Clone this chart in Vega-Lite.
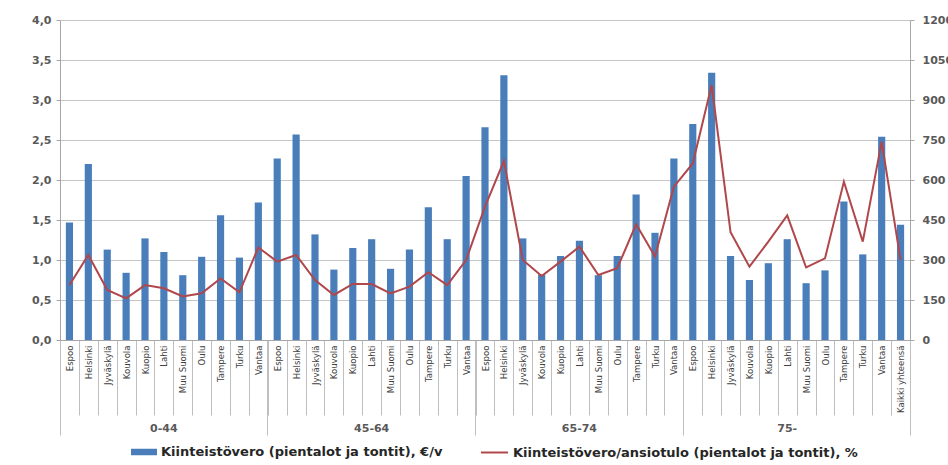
{
  "$schema": "https://vega.github.io/schema/vega-lite/v6.json",
  "width": 850,
  "height": 320,
  "padding": {"left": 30, "top": 14, "right": 0, "bottom": 5},
  "background": "white",
  "config": {"view": {"stroke": null}},
  "data": {
    "values": [
      {"i": 0, "group": "0-44", "city": "Espoo", "key": "0-44|Espoo", "vero": 1.47, "osuus": 206},
      {"i": 1, "group": "0-44", "city": "Helsinki", "key": "0-44|Helsinki", "vero": 2.20, "osuus": 319},
      {"i": 2, "group": "0-44", "city": "Jyväskylä", "key": "0-44|Jyväskylä", "vero": 1.13, "osuus": 188},
      {"i": 3, "group": "0-44", "city": "Kouvola", "key": "0-44|Kouvola", "vero": 0.84, "osuus": 156},
      {"i": 4, "group": "0-44", "city": "Kuopio", "key": "0-44|Kuopio", "vero": 1.27, "osuus": 206},
      {"i": 5, "group": "0-44", "city": "Lahti", "key": "0-44|Lahti", "vero": 1.10, "osuus": 194},
      {"i": 6, "group": "0-44", "city": "Muu Suomi", "key": "0-44|Muu Suomi", "vero": 0.81, "osuus": 163},
      {"i": 7, "group": "0-44", "city": "Oulu", "key": "0-44|Oulu", "vero": 1.04, "osuus": 175},
      {"i": 8, "group": "0-44", "city": "Tampere", "key": "0-44|Tampere", "vero": 1.56, "osuus": 231},
      {"i": 9, "group": "0-44", "city": "Turku", "key": "0-44|Turku", "vero": 1.03, "osuus": 179},
      {"i": 10, "group": "0-44", "city": "Vantaa", "key": "0-44|Vantaa", "vero": 1.72, "osuus": 347},
      {"i": 11, "group": "45-64", "city": "Espoo", "key": "45-64|Espoo", "vero": 2.27, "osuus": 294},
      {"i": 12, "group": "45-64", "city": "Helsinki", "key": "45-64|Helsinki", "vero": 2.57, "osuus": 319},
      {"i": 13, "group": "45-64", "city": "Jyväskylä", "key": "45-64|Jyväskylä", "vero": 1.32, "osuus": 225},
      {"i": 14, "group": "45-64", "city": "Kouvola", "key": "45-64|Kouvola", "vero": 0.88, "osuus": 169},
      {"i": 15, "group": "45-64", "city": "Kuopio", "key": "45-64|Kuopio", "vero": 1.15, "osuus": 210},
      {"i": 16, "group": "45-64", "city": "Lahti", "key": "45-64|Lahti", "vero": 1.26, "osuus": 210},
      {"i": 17, "group": "45-64", "city": "Muu Suomi", "key": "45-64|Muu Suomi", "vero": 0.89, "osuus": 175},
      {"i": 18, "group": "45-64", "city": "Oulu", "key": "45-64|Oulu", "vero": 1.13, "osuus": 200},
      {"i": 19, "group": "45-64", "city": "Tampere", "key": "45-64|Tampere", "vero": 1.66, "osuus": 254},
      {"i": 20, "group": "45-64", "city": "Turku", "key": "45-64|Turku", "vero": 1.26, "osuus": 206},
      {"i": 21, "group": "45-64", "city": "Vantaa", "key": "45-64|Vantaa", "vero": 2.05, "osuus": 300},
      {"i": 22, "group": "65-74", "city": "Espoo", "key": "65-74|Espoo", "vero": 2.66, "osuus": 500},
      {"i": 23, "group": "65-74", "city": "Helsinki", "key": "65-74|Helsinki", "vero": 3.31, "osuus": 671},
      {"i": 24, "group": "65-74", "city": "Jyväskylä", "key": "65-74|Jyväskylä", "vero": 1.27, "osuus": 300},
      {"i": 25, "group": "65-74", "city": "Kouvola", "key": "65-74|Kouvola", "vero": 0.82, "osuus": 240},
      {"i": 26, "group": "65-74", "city": "Kuopio", "key": "65-74|Kuopio", "vero": 1.05, "osuus": 294},
      {"i": 27, "group": "65-74", "city": "Lahti", "key": "65-74|Lahti", "vero": 1.24, "osuus": 350},
      {"i": 28, "group": "65-74", "city": "Muu Suomi", "key": "65-74|Muu Suomi", "vero": 0.81, "osuus": 244},
      {"i": 29, "group": "65-74", "city": "Oulu", "key": "65-74|Oulu", "vero": 1.05, "osuus": 269},
      {"i": 30, "group": "65-74", "city": "Tampere", "key": "65-74|Tampere", "vero": 1.82, "osuus": 434},
      {"i": 31, "group": "65-74", "city": "Turku", "key": "65-74|Turku", "vero": 1.34, "osuus": 313},
      {"i": 32, "group": "65-74", "city": "Vantaa", "key": "65-74|Vantaa", "vero": 2.27, "osuus": 575},
      {"i": 33, "group": "75-", "city": "Espoo", "key": "75-|Espoo", "vero": 2.70, "osuus": 662},
      {"i": 34, "group": "75-", "city": "Helsinki", "key": "75-|Helsinki", "vero": 3.34, "osuus": 956},
      {"i": 35, "group": "75-", "city": "Jyväskylä", "key": "75-|Jyväskylä", "vero": 1.05, "osuus": 404},
      {"i": 36, "group": "75-", "city": "Kouvola", "key": "75-|Kouvola", "vero": 0.75, "osuus": 275},
      {"i": 37, "group": "75-", "city": "Kuopio", "key": "75-|Kuopio", "vero": 0.96, "osuus": 369},
      {"i": 38, "group": "75-", "city": "Lahti", "key": "75-|Lahti", "vero": 1.26, "osuus": 467},
      {"i": 39, "group": "75-", "city": "Muu Suomi", "key": "75-|Muu Suomi", "vero": 0.71, "osuus": 272},
      {"i": 40, "group": "75-", "city": "Oulu", "key": "75-|Oulu", "vero": 0.87, "osuus": 306},
      {"i": 41, "group": "75-", "city": "Tampere", "key": "75-|Tampere", "vero": 1.73, "osuus": 594},
      {"i": 42, "group": "75-", "city": "Turku", "key": "75-|Turku", "vero": 1.07, "osuus": 369},
      {"i": 43, "group": "75-", "city": "Vantaa", "key": "75-|Vantaa", "vero": 2.54, "osuus": 744},
      {"i": 44, "group": "75-", "city": "Kaikki yhteensä", "key": "75-|Kaikki yhteensä", "vero": 1.44, "osuus": 300}
    ]
  },
  "layer": [
    {
      "mark": {"type": "bar", "width": {"band": 0.38}},
      "encoding": {
        "x": {
          "field": "key", "type": "nominal", "sort": null, "title": null,
          "scale": {"paddingInner": 0, "paddingOuter": 0},
          "axis": {
            "orient": "bottom",
            "labelExpr": "split(datum.value, '|')[1]",
            "labelAngle": -90, "labelAlign": "right", "labelBaseline": "middle",
            "labelFont": "Liberation Sans Narrow, DejaVu Sans Condensed, sans-serif",
            "labelFontSize": 9.5, "labelColor": "#404040",
            "labelOverlap": false,
            "tickBand": "extent", "tickSize": 75, "tickColor": "#BFBFBF",
            "labelPadding": -70,
            "domainColor": "#A6A6A6"
          }
        },
        "y": {
          "field": "vero", "type": "quantitative", "title": null,
          "scale": {"domain": [0, 4]},
          "axis": {
            "orient": "left",
            "values": [0, 0.5, 1, 1.5, 2, 2.5, 3, 3.5, 4],
            "labelExpr": "replace(format(datum.value, '.1f'), '.', ',')",
            "grid": true, "gridColor": "#C6C6C6",
            "domainColor": "#A6A6A6", "tickColor": "#A6A6A6", "tickSize": 4,
            "labelPadding": 5, "labelFont": "DejaVu Sans", "labelFontSize": 11,
            "labelFontWeight": "bold", "labelColor": "#595959",
            "minExtent": 30, "maxExtent": 30
          }
        },
        "color": {
          "datum": "Kiinteistövero (pientalot ja tontit), €/v",
          "scale": {"range": ["#4A7EBB"]},
          "legend": {
            "orient": "none", "legendX": 70, "legendY": 418, "title": null,
            "symbolType": "M-1,-0.25H1V0.25H-1Z", "symbolSize": 676,
            "labelFont": "DejaVu Sans", "labelFontSize": 13, "labelFontWeight": "bold",
            "labelColor": "#262626", "labelOffset": 3, "labelLimit": 500, "padding": 0
          }
        }
      }
    },
    {
      "mark": {"type": "line", "strokeWidth": 2},
      "encoding": {
        "x": {
          "field": "key", "type": "nominal", "sort": null, "title": null,
          "axis": {
            "orient": "bottom", "values": ["75-|Kaikki yhteensä"], "bandPosition": 1,
            "tickSize": 95, "tickColor": "#BFBFBF", "domain": false, "labels": false
          }
        },
        "y": {
          "field": "osuus", "type": "quantitative", "title": null,
          "scale": {"domain": [0, 1200]},
          "axis": {
            "orient": "right",
            "values": [0, 150, 300, 450, 600, 750, 900, 1050, 1200],
            "format": "d",
            "grid": false, "domainColor": "#A6A6A6", "tickColor": "#A6A6A6", "tickSize": 4,
            "labelPadding": 8, "labelFont": "DejaVu Sans", "labelFontSize": 11,
            "labelFontWeight": "bold", "labelColor": "#595959",
            "minExtent": 38, "maxExtent": 38
          }
        },
        "order": {"field": "i", "type": "quantitative"},
        "stroke": {
          "datum": "Kiinteistövero/ansiotulo (pientalot ja  tontit), %",
          "scale": {"range": ["#B0474B"]},
          "legend": {
            "orient": "none", "legendX": 420, "legendY": 418, "title": null,
            "symbolType": "M-1,0H1", "symbolSize": 729, "symbolStrokeWidth": 2,
            "labelFont": "DejaVu Sans", "labelFontSize": 13, "labelFontWeight": "bold",
            "labelColor": "#262626", "labelOffset": 4, "labelLimit": 500, "padding": 0
          }
        }
      }
    },
    {
      "mark": {"type": "rule", "opacity": 0},
      "encoding": {
        "x": {
          "field": "key", "type": "nominal", "sort": null, "title": null,
          "axis": {
            "orient": "bottom",
            "values": ["0-44|Espoo", "45-64|Espoo", "65-74|Espoo", "75-|Espoo"],
            "bandPosition": 0, "tickSize": 95, "tickColor": "#BFBFBF", "domain": false,
            "labelExpr": "split(datum.value, '|')[0]",
            "labelOffset": 94.44, "labelPadding": -13, "labelAngle": 0,
            "labelAlign": "center", "labelBaseline": "top",
            "labelFont": "DejaVu Sans", "labelFontSize": 11, "labelFontWeight": "bold",
            "labelColor": "#595959"
          }
        }
      }
    }
  ],
  "resolve": {"scale": {"y": "independent"}, "axis": {"x": "independent"}}
}
